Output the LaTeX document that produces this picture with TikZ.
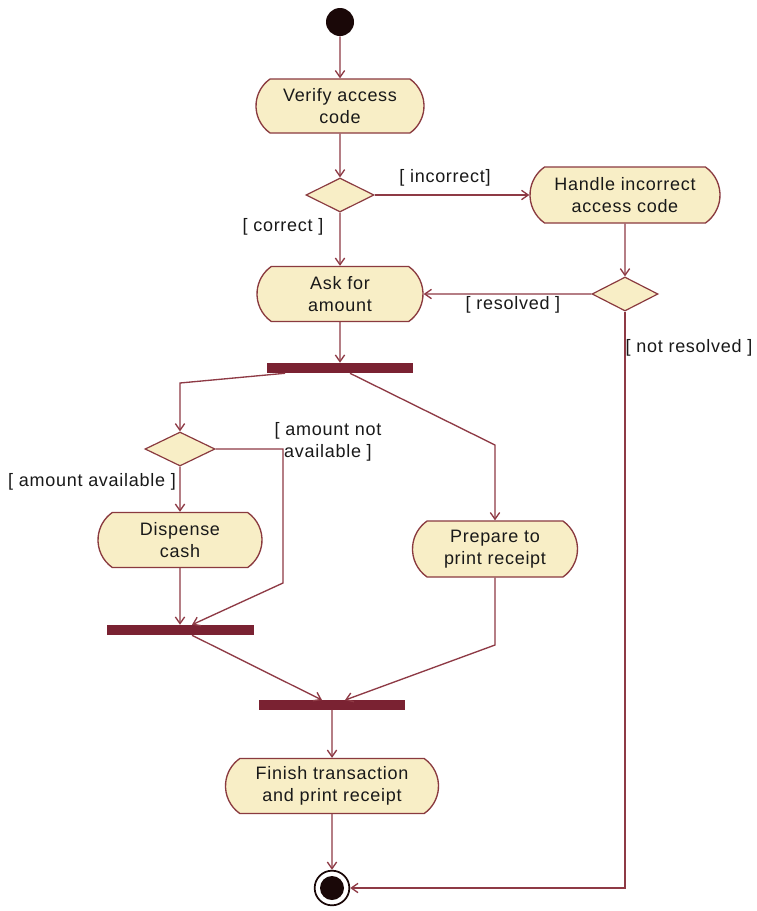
\documentclass[tikz,border=0pt]{standalone}
\usepackage{fontspec}
\setmainfont{Liberation Sans}[LetterSpace=4]
\usetikzlibrary{shapes.misc,shapes.geometric,arrows.meta,calc}
\definecolor{fillc}{HTML}{F8EEC6}
\definecolor{edgec}{HTML}{8A3A3F}
\definecolor{barc}{HTML}{7A2232}
\definecolor{linec}{HTML}{8E3A45}
\definecolor{dotc}{HTML}{1A0808}
\begin{document}
\begin{tikzpicture}[x=0.75pt,y=-0.75pt,
  font=\fontsize{13.5pt}{17pt}\selectfont,
  act/.style={rounded rectangle, rounded rectangle arc length=110, draw=edgec, fill=fillc, line width=1pt, align=center, inner sep=0pt, text=black!90},
  dec/.style={diamond, draw=edgec, fill=fillc, line width=0.9pt, inner sep=0pt, minimum width=51pt, minimum height=25.5pt},
  bar/.style={rectangle, fill=barc, inner sep=0pt, minimum width=109.5pt, minimum height=7.5pt},
  flow/.style={draw=linec, line width=1pt, -{Straight Barb[length=5pt,width=7pt]}},
  guard/.style={text=black!90, inner sep=0pt, align=center}]
\useasboundingbox[fill=white] (0,0) rectangle (757,911);

% nodes
\node[circle, fill=dotc, inner sep=0pt, minimum size=21pt] (start) at (340,22) {};
\node[act, minimum width=126pt, minimum height=40.5pt] (verify) at (340,106) {Verify access\\code};
\node[dec] (d1) at (340,195) {};
\node[act, minimum width=142.5pt, minimum height=42pt] (handle) at (625,195) {Handle incorrect\\access code};
\node[act, minimum width=124.5pt, minimum height=41.25pt] (ask) at (340,294) {Ask for\\amount};
\node[dec, minimum width=49.5pt] (d2) at (625,294) {};
\node[bar] (bar1) at (340,368) {};
\node[dec, minimum width=52.5pt] (d3) at (180,449) {};
\node[act, minimum width=123pt, minimum height=41.25pt] (dispense) at (180,540) {Dispense\\cash};
\node[act, minimum width=123.75pt, minimum height=42pt] (prepare) at (495,549) {Prepare to\\print receipt};
\node[bar, minimum width=110.25pt] (bar2) at (180,630) {};
\node[bar, minimum height=7pt] (bar3) at (332,705) {};
\node[act, minimum width=159.75pt, minimum height=41.25pt] (finish) at (332,786) {Finish transaction\\and print receipt};
\node[circle, draw=dotc, line width=1.3pt, fill=white, inner sep=0pt, minimum size=26pt] (final) at (332,888) {};
\fill[dotc] (final.center) circle[radius=9pt];

% bend points
\coordinate (k1) at (180,383);
\coordinate (k2) at (495,445);
\coordinate (k3) at (283,449);
\coordinate (k4) at (283,583);
\coordinate (k5) at (495,645);

% connectors
\draw[flow] (start) -- (verify);
\draw[flow] (verify) -- (d1);
\draw[flow] (d1) -- (handle);
\draw[flow] (d1) -- (ask);
\draw[flow] (handle) -- (d2);
\draw[flow] (d2) -- (ask);
\draw[flow] (d2.south) |- (final.east);
\draw[flow] (ask) -- (bar1);
\draw[flow] ($(bar1.south)+(-55,0)$) -- (k1) -- (d3.north);
\draw[flow] ($(bar1.south)+(10,0)$) -- (k2) -- (prepare.north);
\draw[flow] (d3) -- (dispense);
\draw[flow] (d3.east) -- (k3) -- (k4) -- ($(bar2.north)+(12,0)$);
\draw[flow] (dispense) -- (bar2);
\draw[flow] ($(bar2.south)+(12,0)$) -- ($(bar3.north)+(-10,0)$);
\draw[flow] (prepare.south) -- (k5) -- ($(bar3.north)+(13,0)$);
\draw[flow] (bar3) -- (finish);
\draw[flow] (finish) -- (final);

% guards
\node[guard] (lincorrect) at (445,178) {[ incorrect]};
\node[guard] (lcorrect) at (283,227) {[ correct ]};
\node[guard] (lresolved) at (513,305) {[ resolved ]};
\node[guard] (lnotres) at (689,348) {[ not resolved ]};
\node[guard] (lavail) at (92,482) {[ amount available ]};
\node[guard] (lnotavail) at (328,442) {[ amount not\\available ]};
\end{tikzpicture}
\end{document}
